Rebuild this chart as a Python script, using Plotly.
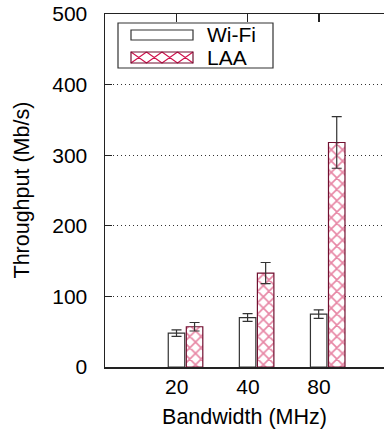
import plotly.graph_objects as go

# ---- data ----
bandwidths = ["20", "40", "80"]
wifi_tput = [48, 70, 75]
wifi_err = [4.5, 5.5, 6]
laa_tput = [57, 133, 318]
laa_err = [6, 15, 36.5]
series_names = ["Wi-Fi", "LAA"]
y_ticks = [0, 100, 200, 300, 400, 500]

W, H = 384, 434
ML, MR, MT = 105, 0, 14
PH = 353
MB = H - MT - PH
PW = W - ML - MR

FONT = "Liberation Sans, Arial, Helvetica, sans-serif"
LAA_FG = "#d0104c"
LAA_EDGE = "#701030"

def px(x):
    return (x - ML) / PW

def py(y):
    return (H - MB - y) / PH

fig = go.Figure()
fig.add_trace(go.Bar(
    x=bandwidths, y=wifi_tput, name=series_names[0],
    width=0.232, offset=-0.12,
    marker=dict(color="white", line=dict(color="#333333", width=1.2)),
    error_y=dict(type="data", array=wifi_err, color="#333333", thickness=1.2, width=5),
    showlegend=False,
))
fig.add_trace(go.Bar(
    x=bandwidths, y=laa_tput, name=series_names[1],
    width=0.232, offset=0.134,
    marker=dict(color="white", line=dict(color=LAA_EDGE, width=1.2),
                pattern=dict(shape="x", fgcolor=LAA_FG, bgcolor="white", size=8, solidity=0.38)),
    error_y=dict(type="data", array=laa_err, color="#333333", thickness=1.2, width=5),
    showlegend=False,
))

# ---- manual legend (wide sample boxes like the original) ----
shapes = []
shapes.append(dict(type="rect", xref="paper", yref="paper",
                   x0=px(118), x1=px(273), y0=py(68), y1=py(23),
                   fillcolor="white", line=dict(color="#333333", width=1.2), layer="above"))
shapes.append(dict(type="rect", xref="paper", yref="paper",
                   x0=px(131), x1=px(193), y0=py(40), y1=py(30),
                   fillcolor="white", line=dict(color="#333333", width=1.2), layer="above"))
# LAA sample: crosshatch
x0s, x1s, ya, yb = 131, 193, 52, 63
n = 4
cw = (x1s - x0s) / n
path = ""
for k in range(n):
    a = x0s + k * cw
    b = a + cw
    path += f"M{px(a)},{py(ya)} L{px(b)},{py(yb)} M{px(a)},{py(yb)} L{px(b)},{py(ya)} "
shapes.append(dict(type="rect", xref="paper", yref="paper",
                   x0=px(x0s), x1=px(x1s), y0=py(yb), y1=py(ya),
                   fillcolor="white", line=dict(width=0), layer="above"))
shapes.append(dict(type="path", xref="paper", yref="paper", path=path,
                   line=dict(color=LAA_FG, width=1.1), layer="above"))
shapes.append(dict(type="rect", xref="paper", yref="paper",
                   x0=px(x0s), x1=px(x1s), y0=py(yb), y1=py(ya),
                   fillcolor="rgba(0,0,0,0)", line=dict(color=LAA_EDGE, width=1.2), layer="above"))

annotations = [
    dict(text=series_names[0], xref="paper", yref="paper", x=px(205), y=py(34),
         xanchor="left", yanchor="middle", showarrow=False,
         font=dict(family=FONT, size=21, color="black")),
    dict(text=series_names[1], xref="paper", yref="paper", x=px(205), y=py(57),
         xanchor="left", yanchor="middle", showarrow=False,
         font=dict(family=FONT, size=21, color="black")),
    dict(text="Throughput (Mb/s)", xref="paper", yref="paper", x=px(21), y=0.5,
         xanchor="center", yanchor="middle", textangle=-90, showarrow=False,
         font=dict(family=FONT, size=21.5, color="black")),
]

fig.update_layout(
    width=W, height=H,
    margin=dict(l=ML, r=MR, t=MT, b=MB, pad=0, autoexpand=False),
    paper_bgcolor="white", plot_bgcolor="white",
    barmode="overlay",
    font=dict(family=FONT, size=21, color="black"),
    shapes=shapes, annotations=annotations,
    showlegend=False,
)
fig.update_xaxes(
    type="category", range=[-1.01, 2.915], automargin=False,
    showline=True, linecolor="#222222", linewidth=1.5, mirror="ticks",
    ticks="inside", ticklen=8, tickwidth=1.2, tickcolor="#222222",
    showgrid=False, zeroline=False, layer="below traces",
    ticklabeloverflow="allow",
    title=dict(text="Bandwidth (MHz)", standoff=12, font=dict(size=21.5)),
    tickfont=dict(size=21),
)
fig.update_yaxes(
    range=[0, 500], tickvals=y_ticks, automargin=False,
    showline=True, linecolor="#222222", linewidth=1.5, mirror=False,
    ticks="inside", ticklen=7, tickwidth=1.2, tickcolor="#222222",
    showgrid=True, gridcolor="#333333", griddash="1px,3px", gridwidth=1,
    zeroline=False, layer="below traces",
    ticklabelstandoff=12, ticklabeloverflow="allow",
    tickfont=dict(size=21),
)

fig.write_html(
    "out.html",
    config={"displayModeBar": False, "staticPlot": True},
    post_script="document.body.style.margin='0';document.body.style.overflow='hidden';",
)
